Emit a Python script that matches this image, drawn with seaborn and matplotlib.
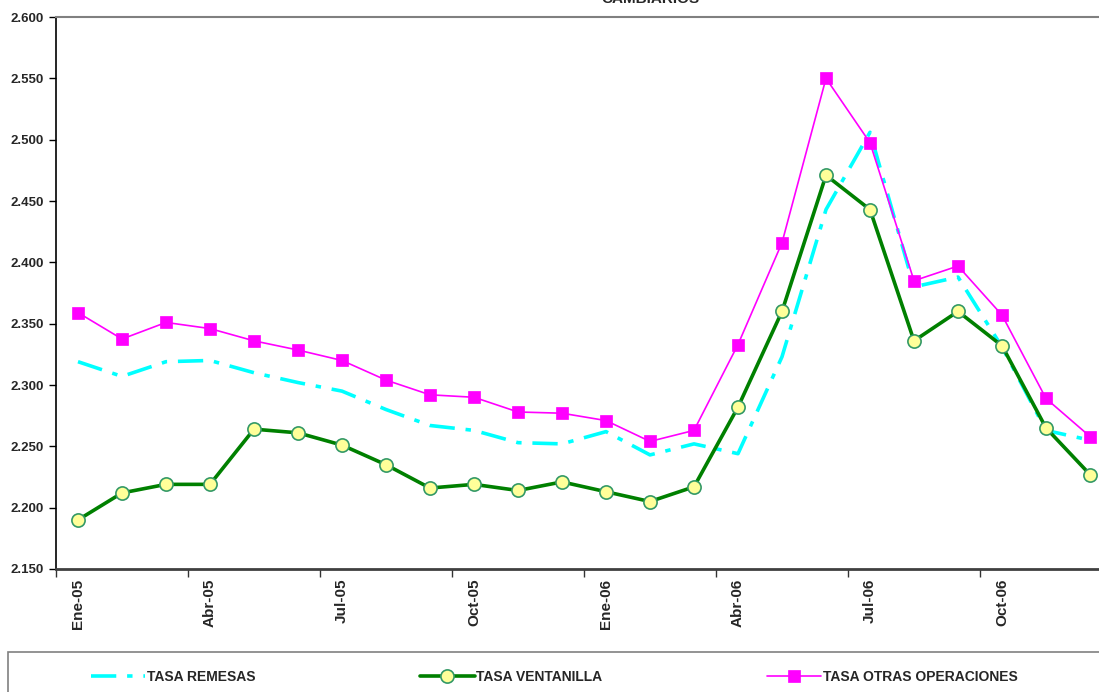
import matplotlib
matplotlib.use("Agg")
import matplotlib.pyplot as plt
import seaborn as sns
import pandas as pd
import numpy as np
from matplotlib.patches import Rectangle
from matplotlib.ticker import FixedLocator, FuncFormatter

months = ["Ene-05", "Feb-05", "Mar-05", "Abr-05", "May-05", "Jun-05", "Jul-05", "Ago-05",
          "Sep-05", "Oct-05", "Nov-05", "Dic-05", "Ene-06", "Feb-06", "Mar-06", "Abr-06",
          "May-06", "Jun-06", "Jul-06", "Ago-06", "Sep-06", "Oct-06", "Nov-06", "Dic-06"]

tasa_remesas = [2.319, 2.307, 2.319, 2.320, 2.310, 2.302, 2.295, 2.280, 2.267, 2.263, 2.253, 2.252,
                2.262, 2.243, 2.252, 2.244, 2.323, 2.443, 2.506, 2.380, 2.388, 2.331, 2.263, 2.255]
tasa_ventanilla = [2.190, 2.212, 2.219, 2.219, 2.264, 2.261, 2.251, 2.235, 2.216, 2.219, 2.214, 2.221,
                   2.213, 2.205, 2.217, 2.282, 2.360, 2.471, 2.443, 2.336, 2.360, 2.332, 2.265, 2.227]
tasa_otras = [2.359, 2.3375, 2.351, 2.346, 2.336, 2.3285, 2.320, 2.304, 2.292, 2.290, 2.278, 2.277,
              2.271, 2.254, 2.263, 2.333, 2.416, 2.550, 2.4975, 2.385, 2.397, 2.357, 2.289, 2.258]

labels_shown = ["Ene-05", "Abr-05", "Jul-05", "Oct-05", "Ene-06", "Abr-06", "Jul-06", "Oct-06"]
series_names = ["TASA REMESAS", "TASA VENTANILLA", "TASA OTRAS OPERACIONES"]

df = pd.DataFrame({"idx": np.arange(len(months)), "mes": months,
                   series_names[0]: tasa_remesas,
                   series_names[1]: tasa_ventanilla,
                   series_names[2]: tasa_otras})

sns.set_style("white")
plt.rcParams["font.family"] = ["Liberation Sans", "DejaVu Sans"]
plt.rcParams["font.weight"] = "bold"

W, H = 1099, 692
fig = plt.figure(figsize=(W / 100, H / 100), dpi=100)
ax = fig.add_axes([56 / W, 123 / H, 1056 / W, 552 / H])

sns.lineplot(data=df, x="idx", y=series_names[0], ax=ax, color="#00FFFF", linewidth=2.6,
             label=series_names[0], zorder=2)
ax.lines[-1].set_dashes([7, 3, 1.5, 3])
sns.lineplot(data=df, x="idx", y=series_names[1], ax=ax, color="#008000", linewidth=2.6,
             marker="o", markersize=9.5, markerfacecolor="#FFFF99", markeredgecolor="#339966",
             markeredgewidth=1.2, label=series_names[1], zorder=3)
sns.lineplot(data=df, x="idx", y=series_names[2], ax=ax, color="#FF00FF", linewidth=1.2,
             marker="s", markersize=8, markerfacecolor="#FF00FF", markeredgecolor="#FF00FF",
             markeredgewidth=0.5, label=series_names[2], zorder=4)

ax.set_xlim(-0.5, len(months) - 0.5)
ax.set_ylim(2.150, 2.600)
ax.set_xlabel("")
ax.set_ylabel("")

yt = np.arange(2.150, 2.6001, 0.05)
ax.set_yticks(yt)
ax.yaxis.set_major_formatter(FuncFormatter(lambda v, p: f"{v:.3f}"))
ax.tick_params(axis="y", which="major", direction="out", length=5, width=1, color="black",
               labelsize=9.5, pad=4, left=True)

# category boundary ticks every 3 months, labels centered on categories
ax.xaxis.set_major_locator(FixedLocator(np.arange(-0.5, len(months), 3)))
ax.xaxis.set_major_formatter(FuncFormatter(lambda v, p: ""))
ax.xaxis.set_minor_locator(FixedLocator([months.index(m) for m in labels_shown]))
ax.set_xticklabels(labels_shown, minor=True, rotation=90, fontsize=11, fontweight="bold")
ax.tick_params(axis="x", which="major", direction="out", length=6, width=1, color="#333333",
               bottom=True)
ax.tick_params(axis="x", which="minor", length=0, pad=7, bottom=True)
for t in ax.get_yticklabels():
    t.set_fontweight("bold")

for side in ["left", "bottom", "top", "right"]:
    ax.spines[side].set_visible(True)
ax.spines["left"].set_color("black")
ax.spines["left"].set_linewidth(1.2)
ax.spines["bottom"].set_color("#404040")
ax.spines["bottom"].set_linewidth(2)
ax.spines["top"].set_color("#808080")
ax.spines["top"].set_linewidth(1.5)
ax.spines["right"].set_color("#808080")
ax.grid(False)

ax.get_legend().remove()
handles, lbls = ax.get_legend_handles_labels()

# legend frame: top edge at y=652 px, extends past the bottom/right edges
fig.patches.append(Rectangle((8 / W, -10 / H), 1110 / W, 50 / H,
                             transform=fig.transFigure, fill=False, edgecolor="#808080",
                             linewidth=1.2, zorder=0))
leg = fig.legend(handles, lbls, loc="center left", bbox_to_anchor=(91 / W, 1 - 677 / H),
                 ncol=3, frameon=False, handlelength=3.9, handletextpad=0.1,
                 columnspacing=11.9, borderpad=0, borderaxespad=0,
                 prop={"weight": "bold", "size": 10})

fig.text(650 / W, 1 - 3 / H, "CAMBIARIOS", ha="center", va="baseline", fontsize=11,
         fontweight="bold")

fig.savefig("out.png", dpi=100, facecolor="white")
